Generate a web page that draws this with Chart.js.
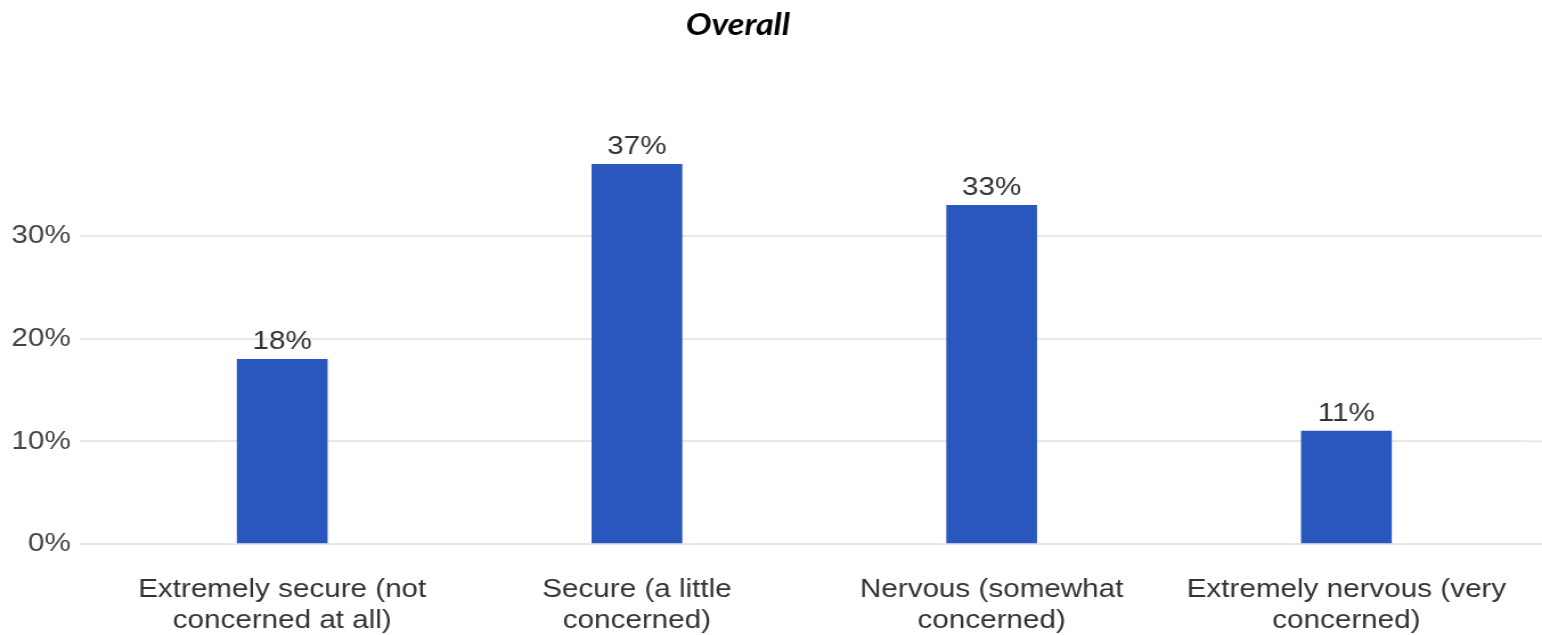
<!DOCTYPE html>
<html>
<head>
<meta charset="utf-8">
<script src="https://cdn.jsdelivr.net/npm/chart.js@4.4.1/dist/chart.umd.min.js"></script>
<style>
  html, body { margin: 0; padding: 0; background: #ffffff; overflow: hidden; }
  #wrap { position: relative; width: 1542px; height: 635px; overflow: hidden; }
  /* the chart is laid out on a narrower canvas and widened to the page width */
  #chart { position: absolute; left: 0; top: 0; transform-origin: 0 0; transform: scaleX(1.1397); }
</style>
</head>
<body>
<div id="wrap"><canvas id="chart" width="1353" height="635"></canvas></div>
<script>
// Survey answers and their shares (percent)
const categories = [
  ["Extremely secure (not", "concerned at all)"],
  ["Secure (a little", "concerned)"],
  ["Nervous (somewhat", "concerned)"],
  ["Extremely nervous (very", "concerned)"]
];
const shares = [18, 37, 33, 11];
const yTicks = [0, 10, 20, 30];
const chartTitle = "Overall";

const TEXT_FONT = "'Liberation Sans', Arial, sans-serif";

// Title, drawn above the plot
const titlePlugin = {
  id: 'titleText',
  afterDraw(chart) {
    const ctx = chart.ctx;
    ctx.save();
    ctx.font = "italic bold 30px Lato, sans-serif";
    ctx.fillStyle = '#000000';
    ctx.textAlign = 'center';
    ctx.textBaseline = 'alphabetic';
    ctx.fillText(chartTitle, 647.5, 35);
    ctx.restore();
  }
};

// Extend gridlines past the right edge of the plot
const gridExtend = {
  id: 'gridExtend',
  beforeDatasetsDraw(chart) {
    const ctx = chart.ctx;
    const y = chart.scales.y;
    ctx.save();
    ctx.strokeStyle = '#e8e8e8';
    ctx.lineWidth = 2;
    y.ticks.forEach(t => {
      const py = y.getPixelForValue(t.value);
      ctx.beginPath();
      ctx.moveTo(chart.chartArea.right, py);
      ctx.lineTo(chart.width, py);
      ctx.stroke();
    });
    ctx.restore();
  }
};

// Percentage labels above each bar
const valueLabels = {
  id: 'valueLabels',
  afterDatasetsDraw(chart) {
    const ctx = chart.ctx;
    const meta = chart.getDatasetMeta(0);
    ctx.save();
    ctx.font = "26px " + TEXT_FONT;
    ctx.fillStyle = '#333333';
    ctx.textAlign = 'center';
    ctx.textBaseline = 'alphabetic';
    meta.data.forEach((bar, i) => {
      ctx.fillText(shares[i] + '%', bar.x, bar.y - 10);
    });
    ctx.restore();
  }
};

new Chart(document.getElementById('chart'), {
  type: 'bar',
  data: {
    labels: categories,
    datasets: [{
      data: shares,
      backgroundColor: '#2a57be',
      borderWidth: 0,
      barThickness: 79
    }]
  },
  options: {
    responsive: false,
    animation: false,
    layout: { padding: { top: 154, right: 12, bottom: 0, left: 0 } },
    plugins: {
      legend: { display: false },
      title: { display: false },
      tooltip: { enabled: false }
    },
    scales: {
      x: {
        grid: { display: false, drawTicks: false },
        border: { display: false },
        ticks: {
          font: { family: TEXT_FONT, size: 26 },
          color: '#333333',
          padding: 30,
          maxRotation: 0,
          autoSkip: false
        },
        afterFit(scale) { scale.height = 91; }
      },
      y: {
        min: 0,
        max: 38,
        border: { display: false },
        grid: { color: '#e8e8e8', lineWidth: 2, drawTicks: true, tickLength: 22 },
        ticks: {
          stepSize: 10,
          padding: 8,
          font: { family: TEXT_FONT, size: 26 },
          color: '#444444',
          callback: v => v + '%'
        },
        afterBuildTicks(scale) {
          scale.ticks = yTicks.map(v => ({ value: v }));
        },
        afterFit(scale) { scale.width = 92; }
      }
    }
  },
  plugins: [titlePlugin, gridExtend, valueLabels]
});
</script>
</body>
</html>
